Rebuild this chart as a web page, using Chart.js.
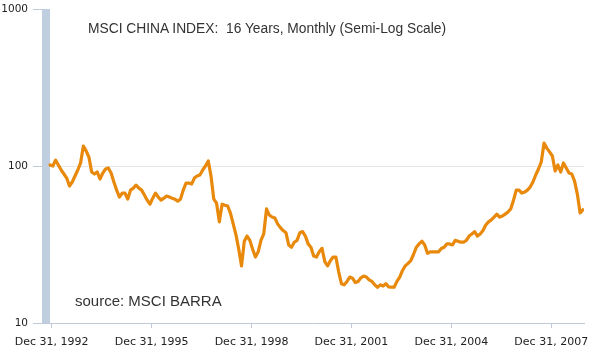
<!DOCTYPE html>
<html>
<head>
<meta charset="utf-8">
<script src="https://cdn.jsdelivr.net/npm/chart.js@4/dist/chart.umd.min.js"></script>
<style>
  html, body { margin: 0; padding: 0; background: #ffffff; }
  #wrap { position: relative; width: 597px; height: 356px; }
  #c { position: absolute; left: 0; top: 0; }
  .note { position: absolute; font-family: "Liberation Sans", Arial, sans-serif; color: #333; white-space: pre; line-height: 1.15; }
  #title { left: 88px; top: 21px; font-size: 13.8px; }
  #source { left: 75px; top: 292px; font-size: 15px; }
</style>
</head>
<body>
<div id="wrap">
  <canvas id="c" width="597" height="356"></canvas>
  <div class="note" id="title">MSCI CHINA INDEX:  16 Years, Monthly (Semi-Log Scale)</div>
  <div class="note" id="source">source: MSCI BARRA</div>
</div>
<script>
// Month index (0 = first monthly observation, Dec 1992)
const indexValues = [
  101.5, 100, 109, 101.5, 94.3, 88.9, 83.8, 74.6, 79.1, 86.4,
  94.3, 104.5, 134, 124.8, 114, 91.6, 88.9, 91.6, 82.6, 90.2,
  95.7, 97.1, 90.2, 79.1, 70.2, 63.4, 67.2, 67.2, 61.5, 70.2,
  72.3, 75.6, 72.3, 70.2, 65.3, 60.6, 57.1, 62.4, 67.2, 63.4,
  60.6, 62.4, 64.4, 63.4, 62.4, 61.5, 59.7, 61.5, 70.2, 77.9,
  77.9, 76.7, 83.8, 86.4, 87.6, 94.3, 100, 107.6, 86.4, 61.5,
  58.0, 44.1, 57.1, 56.3, 55.6, 50.1, 42.8, 36.4, 29.5, 23.1,
  33.2, 35.8, 33.6, 29.5, 26.3, 28.4, 33.6, 36.9, 53.3, 48.7,
  47.3, 46.6, 42.8, 40.5, 38.8, 37.6, 31.4, 30.4, 32.7, 33.6,
  37.6, 38.2, 35.8, 31.9, 30.4, 26.7, 26.3, 28.4, 29.9, 24.6,
  23.1, 24.9, 26.3, 26.3, 21.2, 17.8, 17.5, 18.4, 19.6, 19.3,
  18.1, 18.4, 19.4, 19.9, 19.6, 18.8, 18.4, 17.5, 16.9, 17.5,
  17.2, 17.8, 17.0, 16.9, 16.9, 18.4, 19.6, 21.6, 23.1, 24.0,
  25.0, 27.4, 30.4, 31.9, 33.2, 31.4, 27.8, 28.4, 28.4, 28.4,
  28.4, 29.8, 30.4, 31.9, 31.9, 31.4, 33.6, 33.2, 32.7, 32.7,
  33.6, 35.8, 36.9, 38.2, 35.8, 36.9, 38.8, 42.1, 44.1, 45.4,
  47.3, 49.4, 47.3, 48.0, 49.4, 50.9, 53.3, 60.6, 70.2, 70.2,
  67.2, 68.2, 70.2, 73.4, 79.1, 87.6, 95.7, 106, 140, 130,
  123, 115.8, 92.9, 101.5, 91.6, 104.5, 97.1, 90.2, 88.9, 80.2,
  66.2, 50.2, 52.6
];
const monthIndex = indexValues.map((_, i) => i);

// X tick positions (in months from first observation) and their labels
const xTickMonths = [0.6, 36.6, 72.6, 108.6, 144.6, 180.6];
const xTickLabels = ["Dec 31, 1992", "Dec 31, 1995", "Dec 31, 1998", "Dec 31, 2001", "Dec 31, 2004", "Dec 31, 2007"];

// Y (log) ticks
const yTickValues = [10, 100, 1000];

// Shaded range (months)
const shadedRange = [-2.9, 0];

const bandPlugin = {
  id: 'band',
  beforeDatasetsDraw(chart) {
    const { ctx, chartArea, scales } = chart;
    const x0 = Math.max(chartArea.left, scales.x.getPixelForValue(shadedRange[0]));
    const x1 = scales.x.getPixelForValue(shadedRange[1]);
    ctx.save();
    ctx.fillStyle = '#bfcfdf';
    ctx.fillRect(x0, chartArea.top, x1 - x0, chartArea.bottom - chartArea.top);
    ctx.restore();
  }
};

new Chart(document.getElementById('c'), {
  type: 'line',
  data: {
    datasets: [{
      data: monthIndex.map((m, i) => ({ x: m, y: indexValues[i] })),
      borderColor: '#e8890c',
      borderWidth: 3.2,
      pointRadius: 0,
      tension: 0,
      borderJoinStyle: 'round',
      borderCapStyle: 'round',
      fill: false
    }]
  },
  options: {
    responsive: false,
    animation: false,
    devicePixelRatio: 1,
    layout: { padding: { top: 9, right: 13, left: 0, bottom: 0 } },
    plugins: { legend: { display: false }, tooltip: { enabled: false }, title: { display: false } },
    scales: {
      x: {
        type: 'linear',
        min: shadedRange[0],
        max: 192.4,
        afterBuildTicks(scale) { scale.ticks = xTickMonths.map(v => ({ value: v })); },
        afterFit(scale) { scale.height = 33; scale.paddingLeft = 0; scale.paddingRight = 0; },
        ticks: {
          autoSkip: false,
          maxRotation: 0,
          padding: 8,
          color: '#222',
          font: { family: 'DejaVu Sans', size: 11 },
          callback: (v, i) => xTickLabels[i]
        },
        grid: { drawOnChartArea: false, drawTicks: true, tickLength: 5, tickColor: '#c0cad6' },
        border: { display: true, color: '#c0cad6', width: 1 }
      },
      y: {
        type: 'logarithmic',
        min: 10,
        max: 1000,
        afterBuildTicks(scale) { scale.ticks = yTickValues.map(v => ({ value: v })); },
        afterFit(scale) { scale.width = 42; scale.paddingTop = 0; scale.paddingBottom = 0; },
        ticks: {
          padding: 5,
          color: '#222',
          font: { family: 'DejaVu Sans', size: 10.5 },
          callback: v => String(v)
        },
        grid: {
          drawTicks: true,
          tickLength: 9,
          tickColor: '#c0cad6',
          color: c => (c.tick && c.tick.value === 100) ? '#e6e6e6' : 'rgba(0,0,0,0)'
        },
        border: { display: false }
      }
    }
  },
  plugins: [bandPlugin]
});
</script>
</body>
</html>
